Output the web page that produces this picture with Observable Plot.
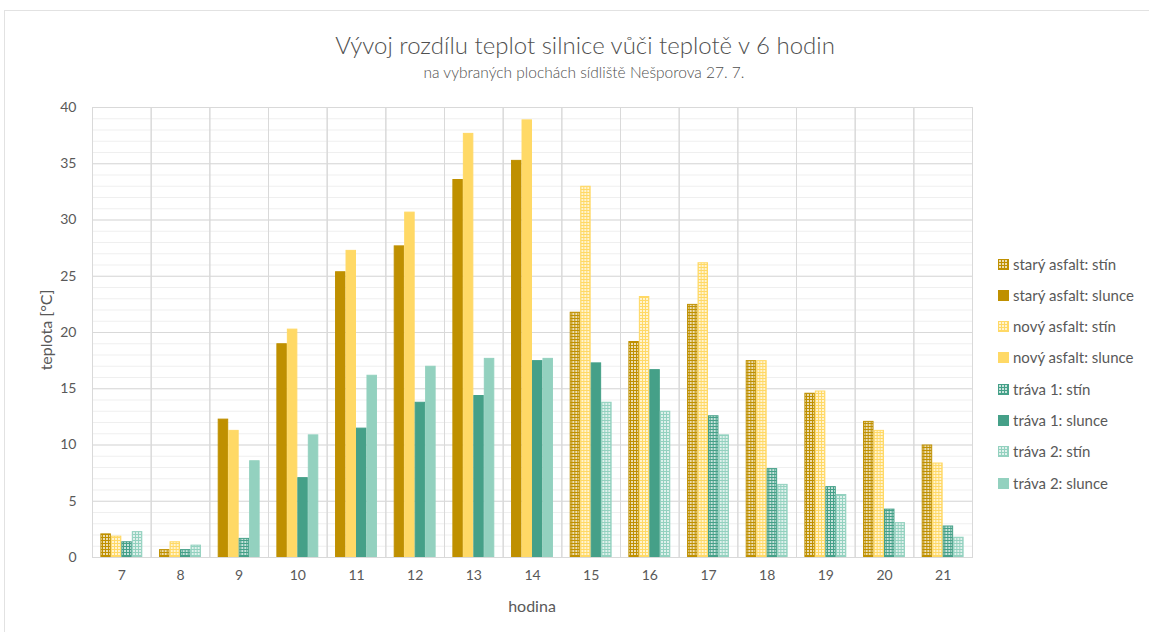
<!DOCTYPE html>
<html><head><meta charset="utf-8">
<script src="https://cdn.jsdelivr.net/npm/d3@7"></script>
<script src="https://cdn.jsdelivr.net/npm/@observablehq/plot@0.6"></script>
<style>
body{margin:0;background:#fff;font-family:Lato,"Open Sans",sans-serif;color:#595959;}
#wrap{position:relative;width:1149px;height:632px;overflow:hidden;}
#border{position:absolute;left:4px;top:10px;width:1170px;height:650px;border:1px solid #e2e2e2;box-sizing:border-box;}
#title{position:absolute;left:0;width:1170px;top:30px;text-align:center;font-size:24px;font-weight:300;line-height:30px;white-space:nowrap;color:#505050;}
#subtitle{position:absolute;left:0;width:1168px;top:62px;text-align:center;font-size:15.5px;font-weight:300;line-height:20px;white-space:nowrap;color:#505050;}
#chart{position:absolute;left:0;top:0;}
#ylab{position:absolute;left:45px;top:330px;transform:translate(-50%,-50%) rotate(-90deg);font-size:16px;white-space:nowrap;}
#xlab{position:absolute;left:532px;top:605px;transform:translate(-50%,-50%);font-size:16px;white-space:nowrap;}
.leg{position:absolute;left:998px;height:18px;display:flex;align-items:center;font-size:15px;white-space:nowrap;}
.leg svg{margin-right:4px;}
</style></head>
<body>
<div id="wrap">
<div id="border"></div>
<div id="chart"></div>
<div id="title">Vývoj rozdílu teplot silnice vůči teplotě v 6 hodin</div>
<div id="subtitle">na vybraných plochách sídliště Nešporova 27. 7.</div>
<div id="ylab">teplota [°C]</div>
<div id="xlab">hodina</div>
<div id="legend"></div>
</div>
<script>
const hours = [7, 8, 9, 10, 11, 12, 13, 14, 15, 16, 17, 18, 19, 20, 21];
const surfaces = ["starý asfalt", "nový asfalt", "tráva 1", "tráva 2"];
const surfaceColors = ["#bf9000", "#ffd966", "#45a088", "#93d1bf"];
const conditions = ["stín", "slunce"];
const yTicks = [0, 5, 10, 15, 20, 25, 30, 35, 40];

const staryStin    = [2.1, 0.7, null, null, null, null, null, null, 21.8, 19.2, 22.5, 17.5, 14.6, 12.1, 10.0];
const starySlunce  = [null, null, 12.3, 19.0, 25.4, 27.7, 33.6, 35.3, null, null, null, null, null, null, null];
const novyStin     = [1.9, 1.4, null, null, null, null, null, null, 33.0, 23.2, 26.2, 17.5, 14.8, 11.3, 8.4];
const novySlunce   = [null, null, 11.3, 20.3, 27.3, 30.7, 37.7, 38.9, null, null, null, null, null, null, null];
const trava1Stin   = [1.4, 0.7, 1.7, null, null, null, null, null, null, null, 12.6, 7.9, 6.3, 4.3, 2.8];
const trava1Slunce = [null, null, null, 7.1, 11.5, 13.8, 14.4, 17.5, 17.3, 16.7, null, null, null, null, null];
const trava2Stin   = [2.3, 1.1, null, null, null, null, null, null, 13.8, 13.0, 10.9, 6.5, 5.6, 3.1, 1.8];
const trava2Slunce = [null, null, 8.6, 10.9, 16.2, 17.0, 17.7, 17.7, null, null, null, null, null, null, null];

const series = [
  {si: 0, cond: "stín", values: staryStin},
  {si: 0, cond: "slunce", values: starySlunce},
  {si: 1, cond: "stín", values: novyStin},
  {si: 1, cond: "slunce", values: novySlunce},
  {si: 2, cond: "stín", values: trava1Stin},
  {si: 2, cond: "slunce", values: trava1Slunce},
  {si: 3, cond: "stín", values: trava2Stin},
  {si: 3, cond: "slunce", values: trava2Slunce}
];

const data = [];
for (const s of series) {
  s.values.forEach((v, i) => {
    if (v != null) data.push({hour: hours[i], surface: surfaces[s.si], si: s.si, cond: s.cond, value: v});
  });
}
const fillOf = (si, cond) => cond === "stín" ? `url(#pat${si})` : surfaceColors[si];

const svg = Plot.plot({
  width: 990,
  height: 632,
  marginLeft: 92,
  marginRight: 18,
  marginTop: 107,
  marginBottom: 75,
  style: {fontFamily: "Lato, 'Open Sans', sans-serif", fontSize: "14px", color: "#595959", background: "transparent"},
  fx: {domain: hours, padding: 0, round: false, label: null},
  x: {domain: surfaces, paddingInner: 0, paddingOuter: 0.8, round: false, axis: null},
  y: {domain: [0, 40], label: null},
  color: {type: "identity"},
  marks: [
    Plot.gridY(d3.range(0, 41, 1), {stroke: "#efefef", strokeOpacity: 1}),
    Plot.gridY(yTicks, {stroke: "#d9d9d9", strokeOpacity: 1}),
    Plot.frame({stroke: "#d9d9d9"}),
    Plot.barY(data, {
      fx: "hour", x: "surface", y: "value",
      fill: d => fillOf(d.si, d.cond),
      stroke: d => surfaceColors[d.si],
      strokeWidth: 1, inset: 0.5
    }),
    Plot.axisY({ticks: yTicks, tickSize: 0, tickPadding: 16, label: null, fontSize: 14, color: "#595959"}),
    Plot.axisFx({anchor: "bottom", tickSize: 0, tickPadding: 13, label: null, fontSize: 14, color: "#595959"})
  ]
});

// patterns for shaded ("stín") bars
const ns = "http://www.w3.org/2000/svg";
const defs = document.createElementNS(ns, "defs");
surfaceColors.forEach((c, i) => {
  const p = document.createElementNS(ns, "pattern");
  p.setAttribute("id", `pat${i}`);
  p.setAttribute("width", 3);
  p.setAttribute("height", 3);
  p.setAttribute("patternUnits", "userSpaceOnUse");
  const r1 = document.createElementNS(ns, "rect");
  r1.setAttribute("width", 3); r1.setAttribute("height", 3); r1.setAttribute("fill", c);
  const r2 = document.createElementNS(ns, "rect");
  r2.setAttribute("x", 1); r2.setAttribute("y", 1); r2.setAttribute("width", 2); r2.setAttribute("height", 2);
  r2.setAttribute("fill", "#ffffff"); r2.setAttribute("fill-opacity", 0.7);
  p.appendChild(r1); p.appendChild(r2);
  defs.appendChild(p);
});
svg.insertBefore(defs, svg.firstChild);
document.getElementById("chart").appendChild(svg);

// legend
const legendTops = [264, 295, 326, 357, 389, 420, 451, 483];
const leg = document.getElementById("legend");
series.forEach((s, k) => {
  const div = document.createElement("div");
  div.className = "leg";
  div.style.top = (legendTops[k] - 9) + "px";
  div.innerHTML = `<svg width="11" height="11"><rect x="0.5" y="0.5" width="10" height="10" fill="${fillOf(s.si, s.cond)}" stroke="${surfaceColors[s.si]}"/></svg><span>${surfaces[s.si]}: ${s.cond}</span>`;
  leg.appendChild(div);
});
</script>
</body></html>
